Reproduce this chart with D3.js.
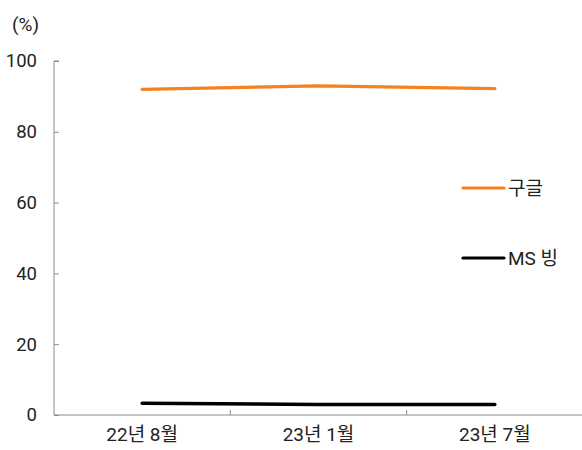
<!DOCTYPE html>
<html><head><meta charset="utf-8">
<script src="https://cdn.jsdelivr.net/npm/d3@7"></script>
<style>body{margin:0;background:#fff;} text{font-family:Roboto,"Noto Sans CJK KR","Noto Sans",sans-serif;}</style>
</head><body><svg id="c" width="582" height="450"></svg>
<script>
const categories = ["22년 8월", "23년 1월", "23년 7월"];
const google = [92.0, 93.0, 92.2];
const bing = [3.3, 3.0, 3.0];
const yTicks = [0, 20, 40, 60, 80, 100];
const seriesNames = ["구글", "MS 빙"];

const svg = d3.select("#c");
const L = 54, R = 583, T = 61, B = 415;
const x = d3.scaleBand().domain(categories).range([L, R]);
const y = d3.scaleLinear().domain([0, 100]).range([B, T]);
const axisColor = "#8c8c8c";

// y axis
const ya = svg.append("g").attr("transform", `translate(${L},0)`)
  .call(d3.axisRight(y).tickValues(yTicks).tickSize(5).tickFormat(""));
ya.selectAll("path,line").attr("stroke", axisColor);
ya.select(".domain").attr("d", `M5,${T}H0V${B}`);
yTicks.forEach(v => {
  svg.append("text").attr("x", 37).attr("y", y(v)).attr("dy", "0.35em")
    .attr("text-anchor", "end").attr("font-size", 18.5).attr("fill", "#222").text(v);
});
svg.append("text").attr("x", 12).attr("y", 24).attr("dy", "0.35em")
  .attr("font-size", 19).attr("fill", "#222").text("(%)");

// x axis
const xa = svg.append("g").attr("transform", `translate(0,${B})`)
  .call(d3.axisTop(x).tickSize(0).tickFormat(""));
xa.select(".domain").attr("stroke", axisColor).attr("d", `M${L},0H${R}`);
xa.selectAll(".tick").remove();
categories.slice(1).forEach(c => {
  svg.append("line").attr("x1", x(c)).attr("x2", x(c)).attr("y1", B).attr("y2", B - 5)
    .attr("stroke", axisColor);
});
categories.forEach(c => {
  svg.append("text").attr("x", x(c) + x.bandwidth() / 2).attr("y", 441)
    .attr("text-anchor", "middle").attr("font-size", 19).attr("fill", "#222").text(c);
});

const line = d3.line().x((d, i) => x(categories[i]) + x.bandwidth() / 2).y(d => y(d));
svg.append("path").datum(google).attr("d", line).attr("fill", "none")
  .attr("stroke", "#f5821f").attr("stroke-width", 3.2).attr("stroke-linecap", "round").attr("stroke-linejoin", "round");
svg.append("path").datum(bing).attr("d", line).attr("fill", "none")
  .attr("stroke", "#000").attr("stroke-width", 3.5).attr("stroke-linecap", "round").attr("stroke-linejoin", "round");

// legend
const leg = [{n: seriesNames[0], c: "#f5821f", y: 188}, {n: seriesNames[1], c: "#000", y: 258}];
leg.forEach(d => {
  svg.append("line").attr("x1", 463).attr("x2", 504).attr("y1", d.y).attr("y2", d.y)
    .attr("stroke", d.c).attr("stroke-width", 3.2).attr("stroke-linecap", "round");
  svg.append("text").attr("x", 508).attr("y", d.y).attr("dy", "0.35em")
    .attr("font-size", 19).attr("fill", "#222").text(d.n);
});
</script></body></html>
